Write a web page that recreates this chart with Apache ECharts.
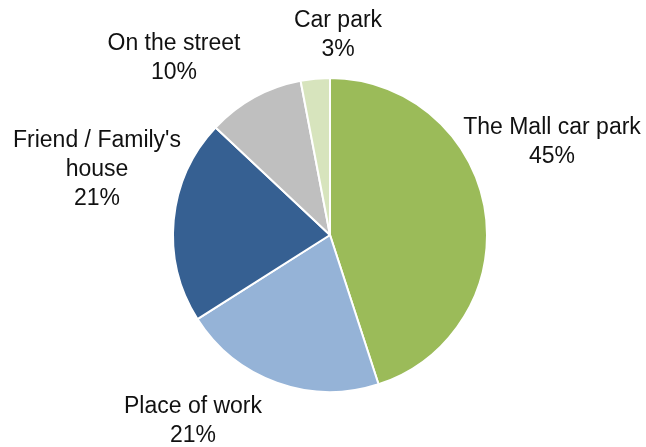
<!DOCTYPE html>
<html>
<head>
<meta charset="utf-8">
<script src="https://cdn.jsdelivr.net/npm/echarts@6/dist/echarts.min.js"></script>
<style>
  html, body { margin: 0; padding: 0; background: #fff; }
  #chart { width: 646px; height: 447px; }
</style>
</head>
<body>
<div id="chart"></div>
<script>
// data
const categories = ['The Mall car park', 'Place of work', "Friend / Family's\nhouse", 'On the street', 'Car park'];
const shares = [45, 21, 21, 10, 3];
const colors = ['#9BBB59', '#95B3D7', '#366092', '#BFBFBF', '#D7E4BD'];

// where each label sits (center of the text block)
const labelPos = [[552, 142], [193, 421], [97, 170], [174, 58], [338, 35]];

const chart = echarts.init(document.getElementById('chart'));

chart.setOption({
  animation: false,
  series: [{
    type: 'pie',
    center: [330, 235],
    radius: 157,
    startAngle: 90,
    clockwise: true,
    data: categories.map((name, i) => ({
      name: name,
      value: shares[i],
      itemStyle: { color: colors[i] }
    })),
    itemStyle: { borderColor: '#fff', borderWidth: 2 },
    label: {
      show: true,
      position: 'outside',
      formatter: p => p.name + '\n' + p.value + '%',
      fontFamily: 'Liberation Sans',
      fontSize: 23,
      lineHeight: 29,
      color: '#111',
      align: 'center',
      overflow: 'none',
      width: 300
    },
    labelLine: { show: false },
    labelLayout: p => ({
      x: labelPos[p.dataIndex][0],
      y: labelPos[p.dataIndex][1],
      align: 'center',
      verticalAlign: 'middle'
    }),
    emphasis: { disabled: true }
  }]
});
</script>
</body>
</html>
